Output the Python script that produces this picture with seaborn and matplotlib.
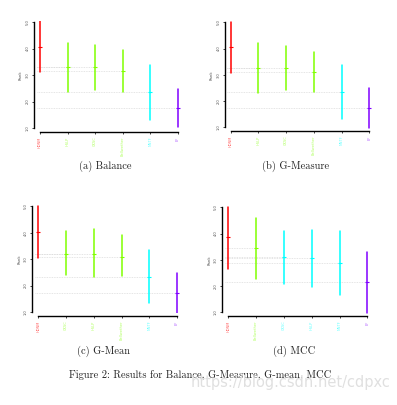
import numpy as np
import pandas as pd
import matplotlib
matplotlib.use("Agg")
import matplotlib.pyplot as plt
import seaborn as sns

sns.set_style("white")

RED, GREEN, CYAN, PURPLE = "#ff0000", "#80ff00", "#00ffff", "#8000ff"

# method names per panel
balance_methods = ["HDNM", "HSLP", "CKSC", "Bellwether", "NNTF", "EF"]
gmeasure_methods = ["HDNM", "HSLP", "CKSC", "Bellwether", "NNTF", "EF"]
gmean_methods = ["HDNM", "CKSC", "HSLP", "Bellwether", "NNTF", "EF"]
mcc_methods = ["HDNM", "Bellwether", "CKSC", "HSLP", "NNTF", "EF"]

# colour group per method
balance_colors = [RED, GREEN, GREEN, GREEN, CYAN, PURPLE]
gmeasure_colors = [RED, GREEN, GREEN, GREEN, CYAN, PURPLE]
gmean_colors = [RED, GREEN, GREEN, GREEN, CYAN, PURPLE]
mcc_colors = [RED, GREEN, CYAN, CYAN, CYAN, PURPLE]

# low / mean / high rank values
balance_low = [3.10, 2.37, 2.45, 2.35, 1.31, 1.03]
balance_mid = [4.07, 3.29, 3.29, 3.16, 2.36, 1.75]
balance_high = [5.03, 4.22, 4.12, 3.96, 3.36, 2.48]

gmeasure_low = [3.08, 2.32, 2.42, 2.36, 1.30, 0.99]
gmeasure_mid = [4.06, 3.25, 3.25, 3.11, 2.33, 1.72]
gmeasure_high = [5.03, 4.20, 4.09, 3.87, 3.39, 2.50]

gmean_low = [3.06, 2.41, 2.32, 2.37, 1.33, 0.98]
gmean_mid = [4.03, 3.21, 3.20, 3.10, 2.31, 1.73]
gmean_high = [5.01, 4.08, 4.15, 3.90, 3.36, 2.48]

mcc_low = [2.66, 2.28, 2.08, 1.98, 1.66, 0.99]
mcc_mid = [3.86, 3.44, 3.10, 3.06, 2.87, 2.14]
mcc_high = [5.03, 4.58, 4.10, 4.12, 4.10, 3.31]

y_ticks = [1, 2, 3, 4, 5]
y_ticklabels = ["1.0", "2.0", "3.0", "4.0", "5.0"]

W, H = 397, 405
XLO, XHI = -0.12, 5.12
YLO, YHI = 0.95, 5.05


def rect(t0, t5, y5, y1):
    """axes rect in figure coords from pixel positions of the ticks"""
    dx = (t5 - t0) / 5
    dy = (y1 - y5) / 4
    left = t0 + XLO * dx
    width = (XHI - XLO) * dx
    top = y5 - (YHI - 5) * dy
    height = (YHI - YLO) * dy
    return [left / W, 1 - (top + height) / H, width / W, height / H]


def rank_panel(ax, methods, colors, low, mid, high):
    df = pd.DataFrame({
        "Method": np.repeat(methods, 3),
        "Rank": np.column_stack([low, mid, high]).ravel(),
    })
    palette = dict(zip(methods, colors))
    for i, m in enumerate(mid):
        if i > 0:
            ax.hlines(m, XLO, i, color="#dcdcdc", lw=0.6, ls=(0, (1, 1)), zorder=0)
    sns.pointplot(
        data=df, x="Method", y="Rank", hue="Method", palette=palette,
        order=methods, estimator=np.median,
        errorbar=lambda v: (v.min(), v.max()),
        linestyles="none", markers="_", markersize=3, markeredgewidth=0.8,
        err_kws={"linewidth": 1.1}, legend=False, ax=ax,
    )
    ax.set_xlim(XLO, XHI)
    ax.set_ylim(YLO, YHI)
    ax.set_yticks(y_ticks)
    ax.set_xticks(range(len(methods)))
    sns.despine(ax=ax, offset=2, trim=True)
    # labels after despine, trim rebuilds the ticks
    ax.set_yticks(y_ticks)
    ax.set_yticklabels(y_ticklabels, rotation=90, va="center", fontsize=2.6, color="#555555")
    ax.set_xticks(range(len(methods)))
    ax.set_xticklabels(methods, rotation=90, fontsize=2.6)
    for lab, c in zip(ax.get_xticklabels(), colors):
        lab.set_color(c)
        lab.set_alpha(0.6)
    ax.set_xlabel("")
    ax.set_ylabel("Rank", fontsize=2.8, color="#555555", labelpad=2)
    ax.tick_params(axis="both", length=1.5, width=0.6, pad=1.5, bottom=True, left=True)
    for s in ("left", "bottom"):
        ax.spines[s].set_linewidth(1.0)
        ax.spines[s].set_color("black")
    ax.set_facecolor("none")


fig = plt.figure(figsize=(W / 100, H / 100), dpi=100)
fig.patch.set_facecolor("white")

panels = [
    (rect(40, 178, 22, 128), balance_methods, balance_colors, balance_low, balance_mid, balance_high),
    (rect(230.7, 369.3, 22.3, 127.3), gmeasure_methods, gmeasure_colors, gmeasure_low, gmeasure_mid, gmeasure_high),
    (rect(38.3, 177, 206.3, 312), gmean_methods, gmean_colors, gmean_low, gmean_mid, gmean_high),
    (rect(228.3, 367.3, 207.3, 312.3), mcc_methods, mcc_colors, mcc_low, mcc_mid, mcc_high),
]
for r, methods, colors, low, mid, high in panels:
    ax = fig.add_axes(r)
    rank_panel(ax, methods, colors, low, mid, high)

serif = ["cmr10", "DejaVu Serif"]
cap_kw = dict(fontsize=7.5, family=serif, ha="center", va="center", color="#222222")
fig.text(105 / W, 1 - 166 / H, "(a) Balance", **cap_kw)
fig.text(296 / W, 1 - 166 / H, "(b) G-Measure", **cap_kw)
fig.text(103 / W, 1 - 351 / H, "(c) G-Mean", **cap_kw)
fig.text(294 / W, 1 - 351 / H, "(d) MCC", **cap_kw)
fig.text(200 / W, 1 - 375 / H, "Figure 2: Results for Balance, G-Measure, G-mean, MCC", **cap_kw)
fig.text(390 / W, 1 - 383 / H, "https://blog.csdn.net/cdpxc", fontsize=10.5,
         ha="right", va="center", color="#e0e0e0", family="DejaVu Sans")

fig.savefig("out.png", dpi=100)
plt.close(fig)
